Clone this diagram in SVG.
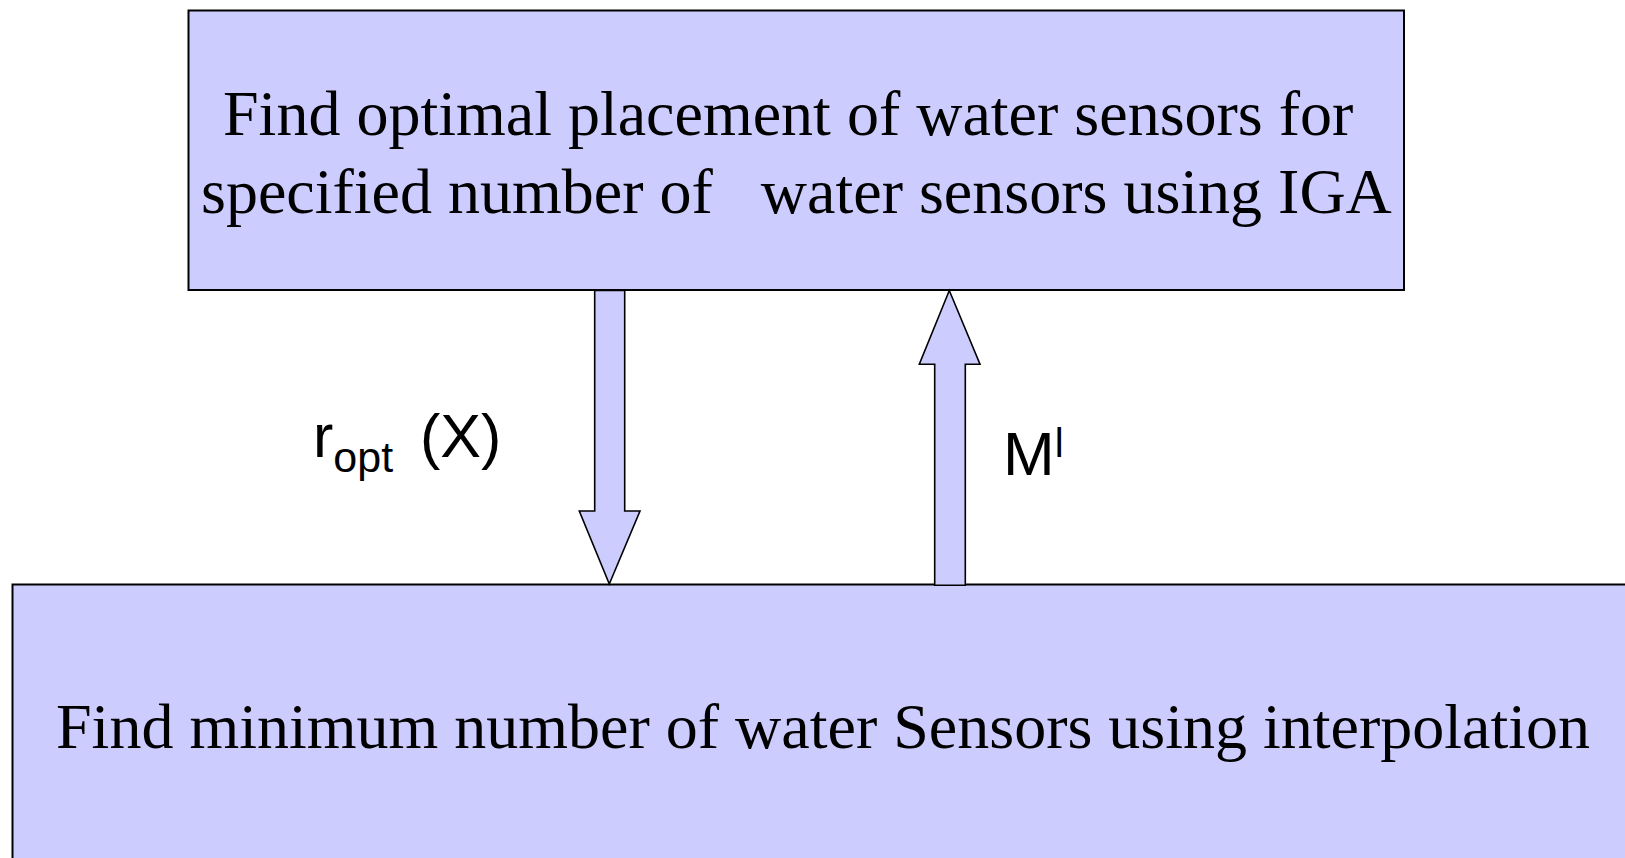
<svg xmlns="http://www.w3.org/2000/svg" width="1625" height="858" viewBox="0 0 1625 858">
<style>
.box{fill:#CCCCFF;stroke:#000;stroke-width:2}
.arrow{fill:#CCCCFF;stroke:#000;stroke-width:1.6;stroke-linejoin:miter}
.serif{font-family:"Liberation Serif","Times New Roman",serif;fill:#000;white-space:pre}
.sans{font-family:"Liberation Sans",Arial,sans-serif;fill:#000}
</style>
<rect width="1625" height="858" fill="#fff"/>
<g id="node-top">
<rect class="box" x="188.5" y="10.5" width="1215.5" height="279.5"/>
<text class="serif" x="223" y="135" font-size="64" xml:space="preserve">Find optimal placement of water sensors for</text>
<text class="serif" x="201" y="213" font-size="64" xml:space="preserve">specified number of   water sensors using IGA</text>
</g>
<g id="node-bottom">
<rect class="box" x="12.5" y="584.5" width="1640" height="300"/>
<text class="serif" x="56" y="748" font-size="64" xml:space="preserve">Find minimum number of water Sensors using interpolation</text>
</g>
<g id="connectors">
<path class="arrow" d="M594.7,290.5 L624.7,290.5 L624.7,511 L640,511 L609.3,584 L579.3,511 L594.7,511 Z"/>
<path class="arrow" d="M934.7,585.3 L965.3,585.3 L965.3,364.3 L980,364.3 L949.3,290.5 L919.3,364.3 L934.7,364.3 Z"/>
<text class="sans" font-size="61"><tspan x="313" y="456.7">r</tspan><tspan font-size="43" y="472">opt</tspan><tspan x="420" y="456.7">(X)</tspan></text>
<text class="sans" x="1003" y="475" font-size="62">M<tspan font-size="40" dy="-18">l</tspan></text>
</g>
</svg>
